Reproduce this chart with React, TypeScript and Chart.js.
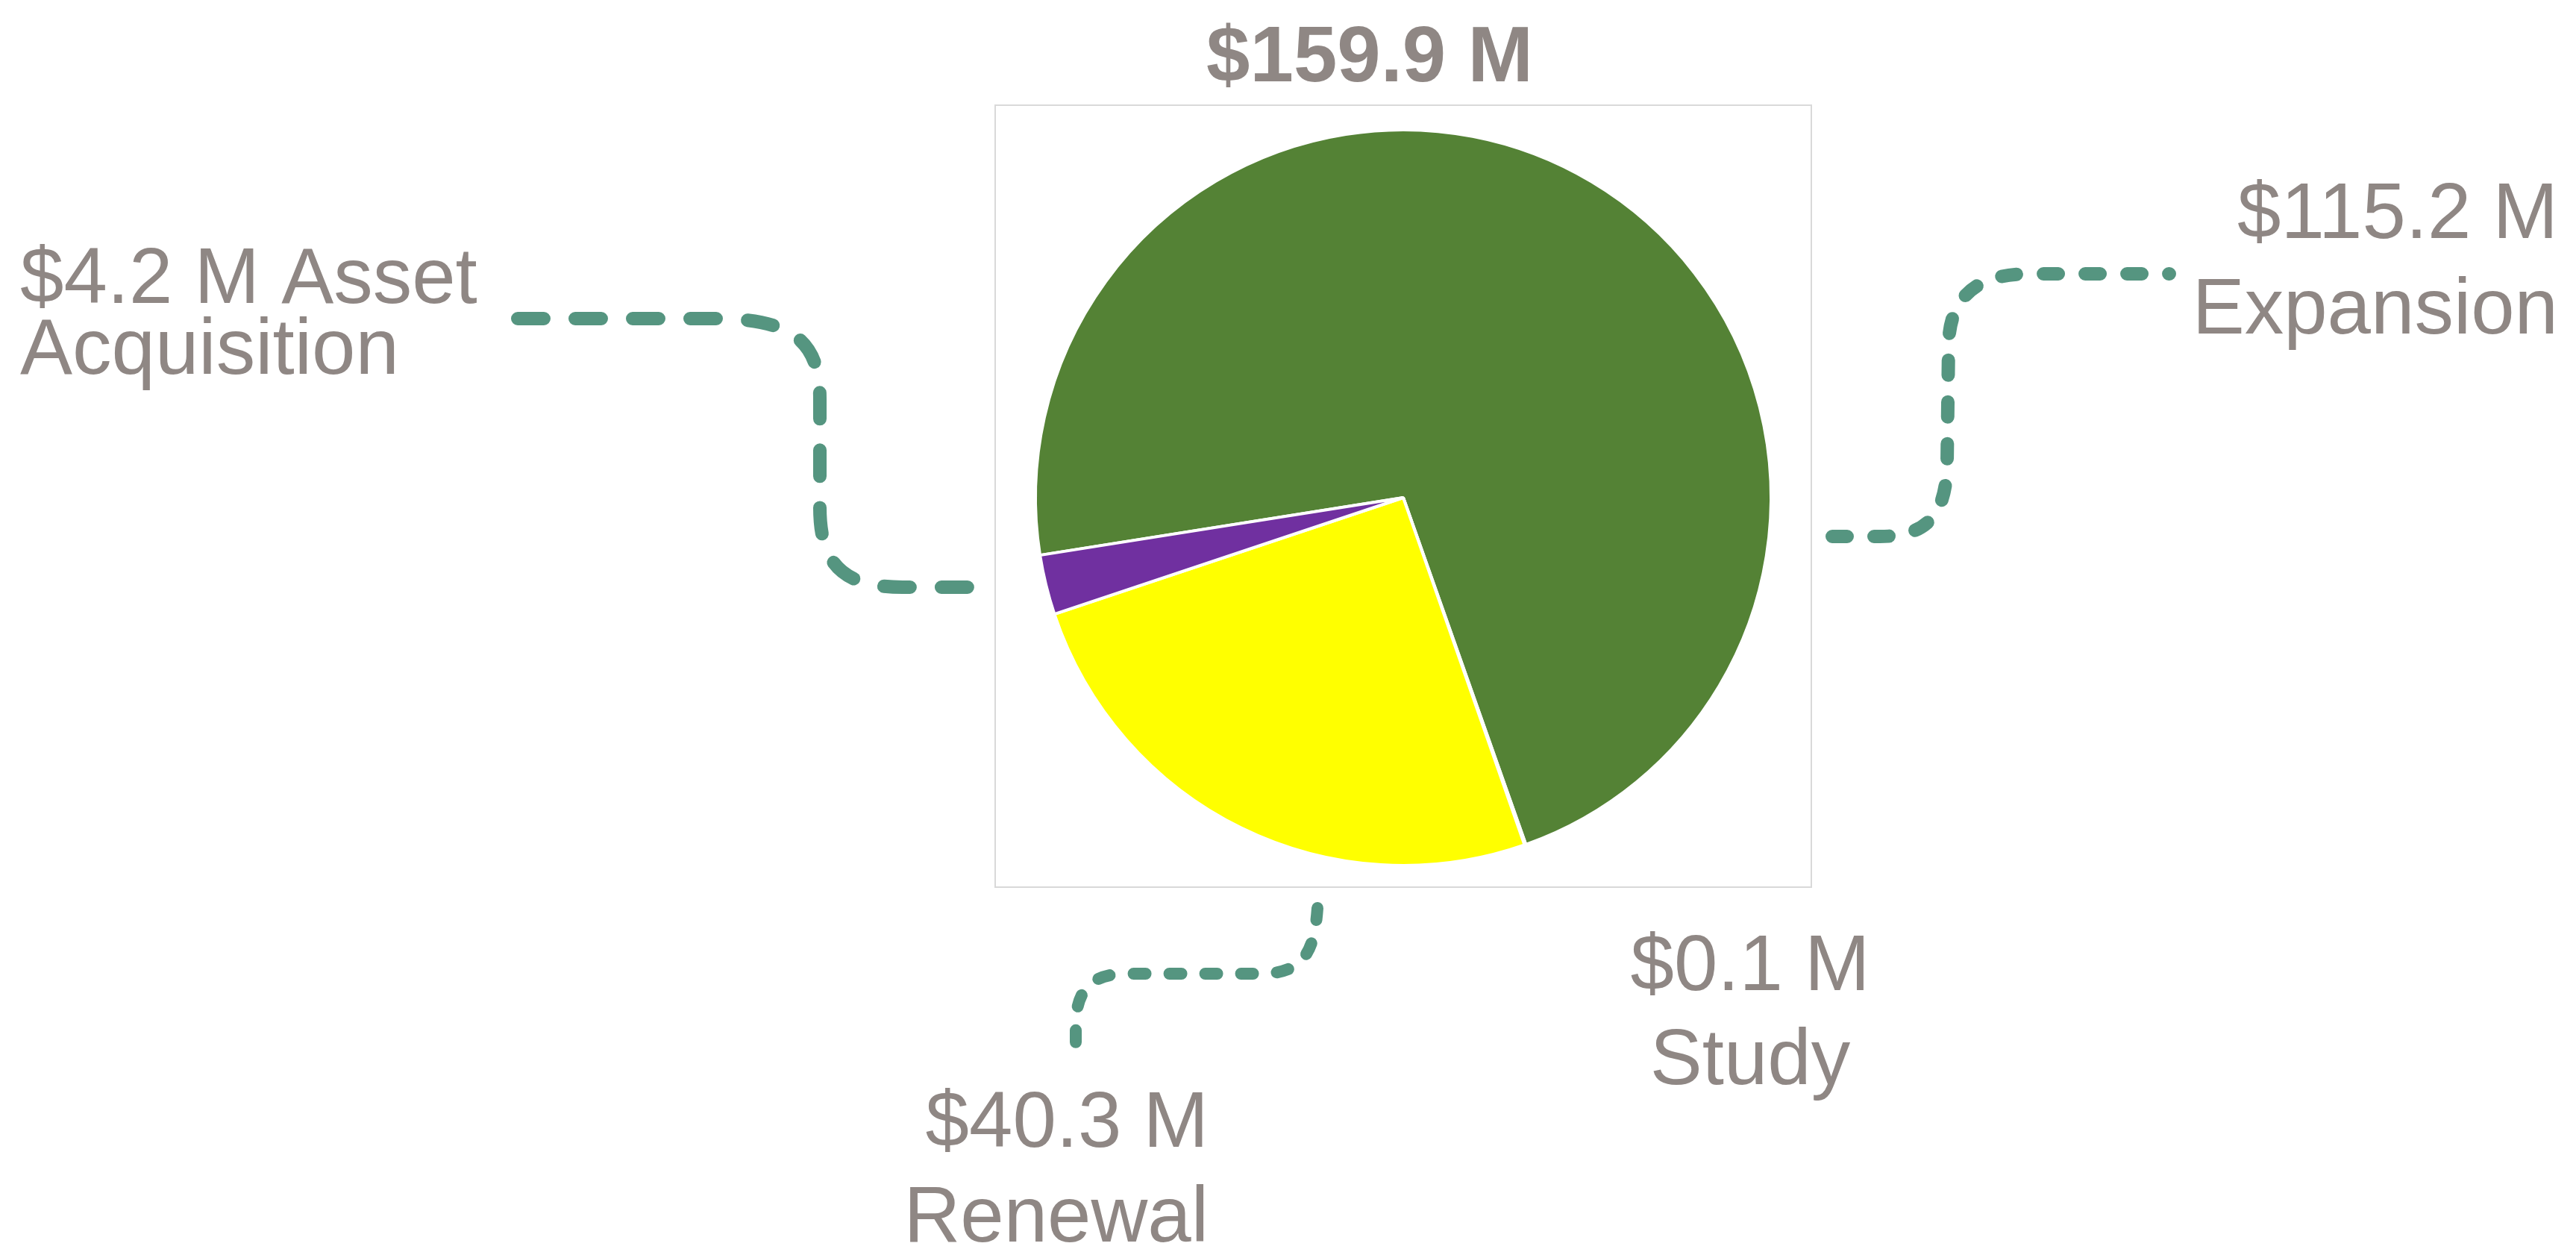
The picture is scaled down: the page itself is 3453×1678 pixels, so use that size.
import { useEffect, useRef } from "react";
import { Chart, registerables } from "chart.js";

Chart.register(...registerables);

// ---- data ----
const categories = ["Expansion", "Study", "Renewal", "Asset Acquisition"];
const values = [115.2, 0.1, 40.3, 4.2];
const sliceColors = ["#548235", "#4472C4", "#FFFF00", "#7030A0"];
const totalLabel = "$159.9 M";
const valueLabels = values.map((v) => `$${v.toFixed(1)} M`);
// number of category words that stay on the value line
const wordsOnFirstLine = [0, 0, 0, 1];

// ---- layout (annotation placement) ----
const W = 3453;
const H = 1678;
const TEXT_COLOR = "#8F8784";
const LINE_COLOR = "#559580";
const FONT = '"Liberation Sans", Arial, sans-serif';

const labelLayout = [
  { align: "right", x: 3429, y: 319, gap: 128 },
  { align: "center", x: 2346, y: 1327, gap: 126 },
  { align: "right", x: 1620, y: 1537, gap: 127 },
  { align: "left", x: 27, y: 406, gap: 95 },
];

type Seg = (string | number)[];
const connectors: ({ width: number; dash: number[]; path: Seg[] } | null)[] = [
  {
    width: 18,
    dash: [20, 36],
    path: [
      ["M", 2456, 719],
      ["L", 2520, 719],
      ["C", 2590, 719, 2609, 682, 2610, 620],
      ["L", 2612, 460],
      ["C", 2614, 398, 2650, 367, 2720, 367],
      ["L", 2908, 367],
    ],
  },
  null,
  {
    width: 16,
    dash: [16, 32],
    path: [
      ["M", 1766, 1217],
      ["C", 1762, 1272, 1750, 1305, 1690, 1305],
      ["L", 1510, 1305],
      ["C", 1460, 1305, 1442, 1330, 1442, 1375],
      ["L", 1442, 1406],
    ],
  },
  {
    width: 18,
    dash: [35, 42],
    path: [
      ["M", 694, 427],
      ["L", 960, 427],
      ["C", 1068, 427, 1099, 462, 1099, 535],
      ["L", 1099, 680],
      ["C", 1099, 758, 1132, 787, 1210, 787],
      ["L", 1308, 787],
    ],
  },
];

function labelLines(i: number): string[] {
  const words = categories[i].split(" ");
  const k = wordsOnFirstLine[i];
  const first = [valueLabels[i], ...words.slice(0, k)].join(" ");
  const rest = words.slice(k).join(" ");
  return rest ? [first, rest] : [first];
}

const decorPlugin = {
  id: "decor",
  beforeDraw(chart: any) {
    const { ctx, chartArea } = chart;
    ctx.save();
    ctx.strokeStyle = "#D9D9D9";
    ctx.lineWidth = 2;
    ctx.strokeRect(
      chartArea.left + 1,
      chartArea.top - 1,
      chartArea.right - chartArea.left - 2,
      chartArea.bottom - chartArea.top - 2
    );
    ctx.restore();
  },
  afterDraw(chart: any) {
    const { ctx } = chart;
    ctx.save();
    // connectors
    connectors.forEach((c) => {
      if (!c) return;
      ctx.beginPath();
      c.path.forEach((s) => {
        const n = s.slice(1) as number[];
        if (s[0] === "M") ctx.moveTo(n[0], n[1]);
        else if (s[0] === "L") ctx.lineTo(n[0], n[1]);
        else ctx.bezierCurveTo(n[0], n[1], n[2], n[3], n[4], n[5]);
      });
      ctx.strokeStyle = LINE_COLOR;
      ctx.lineWidth = c.width;
      ctx.lineCap = "round";
      ctx.lineJoin = "round";
      ctx.setLineDash(c.dash);
      ctx.stroke();
    });
    ctx.setLineDash([]);
    // title
    ctx.fillStyle = TEXT_COLOR;
    ctx.textBaseline = "alphabetic";
    ctx.font = `bold 105px ${FONT}`;
    ctx.textAlign = "center";
    ctx.fillText(totalLabel, 1836, 109);
    // labels
    ctx.font = `105px ${FONT}`;
    labelLayout.forEach((l, i) => {
      ctx.textAlign = l.align;
      labelLines(i).forEach((line, j) => {
        ctx.fillText(line, l.x, l.y + j * l.gap);
      });
    });
    ctx.restore();
  },
};

export default function App() {
  const ref = useRef<HTMLCanvasElement | null>(null);
  useEffect(() => {
    document.body.style.margin = "0";
    document.body.style.overflow = "hidden";
    const canvas = ref.current;
    if (!canvas) return;
    const chart = new Chart(canvas, {
      type: "pie",
      data: {
        labels: categories,
        datasets: [
          {
            data: values,
            backgroundColor: sliceColors,
            borderColor: "#FFFFFF",
            borderWidth: 4,
            radius: 493,
          },
        ],
      },
      options: {
        responsive: false,
        animation: false,
        devicePixelRatio: 1,
        rotation: 261,
        layout: { padding: { left: 1333, right: W - 2429, top: 142, bottom: H - 1192 } },
        plugins: {
          legend: { display: false },
          tooltip: { enabled: false },
          title: { display: false },
        },
        events: [],
      },
      plugins: [decorPlugin],
    });
    return () => chart.destroy();
  }, []);
  return (
    <div style={{ width: W, height: H, overflow: "hidden", background: "#fff" }}>
      <canvas ref={ref} width={W} height={H} style={{ display: "block" }} />
    </div>
  );
}
